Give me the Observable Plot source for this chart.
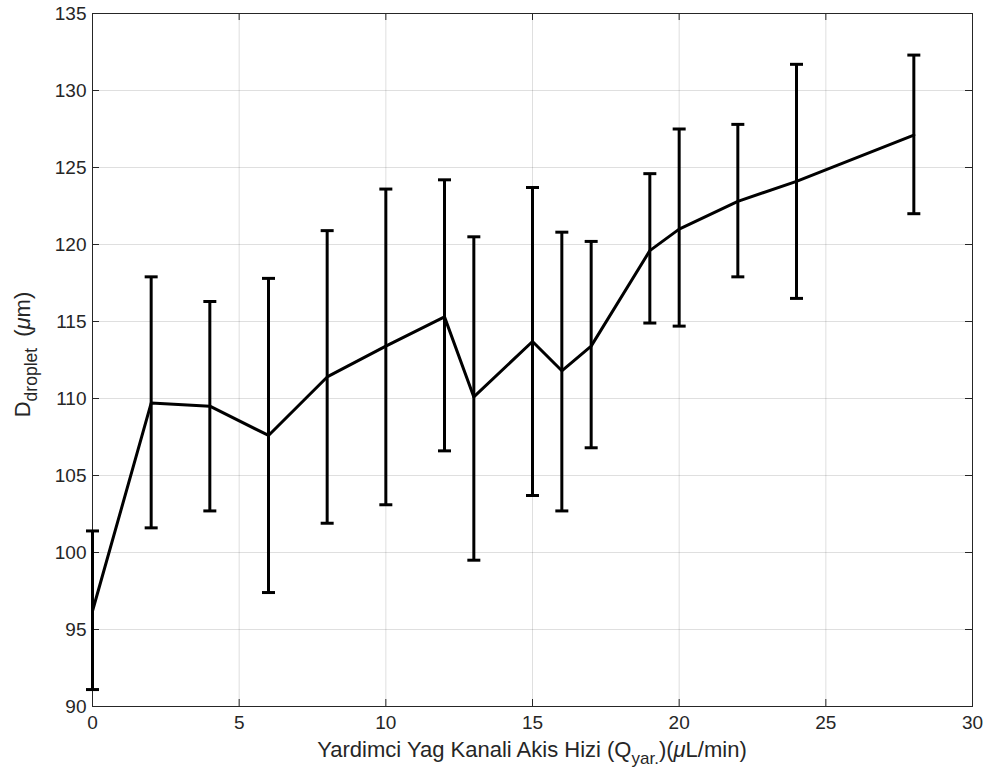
<!DOCTYPE html>
<html>
<head>
<meta charset="utf-8">
<script src="https://cdn.jsdelivr.net/npm/d3@7"></script>
<script src="https://cdn.jsdelivr.net/npm/@observablehq/plot@0.6"></script>
<style>
  html, body { margin: 0; padding: 0; background: #fff; }
  #chart { width: 987px; height: 781px; }
</style>
</head>
<body>
<div id="chart"></div>
<script>
// Flow rate of auxiliary oil channel (µL/min)
const flowRates = [0, 2, 4, 6, 8, 10, 12, 13, 15, 16, 17, 19, 20, 22, 24, 28];
// Mean droplet diameter (µm)
const meanDiameter = [96.2, 109.7, 109.5, 107.6, 111.4, 113.4, 115.3, 110.1, 113.7, 111.8, 113.4, 119.6, 121.0, 122.8, 124.1, 127.1];
// Error bar upper / lower ends (µm)
const upperEnd = [101.4, 117.9, 116.3, 117.8, 120.9, 123.6, 124.2, 120.5, 123.7, 120.8, 120.2, 124.6, 127.5, 127.8, 131.7, 132.3];
const lowerEnd = [91.1, 101.6, 102.7, 97.4, 101.9, 103.1, 106.6, 99.5, 103.7, 102.7, 106.8, 114.9, 114.7, 117.9, 116.5, 122.0];
// Axis ticks
const xTicks = [0, 5, 10, 15, 20, 25, 30];
const yTicks = [90, 95, 100, 105, 110, 115, 120, 125, 130, 135];

const data = flowRates.map((q, i) => ({q, mean: meanDiameter[i], hi: upperEnd[i], lo: lowerEnd[i]}));

const W = 987, H = 781;
const mL = 92, mR = 15, mT = 13, mB = 75;
const plotW = W - mL - mR, plotH = H - mT - mB;
const tickLen = 7;
const ink = "#262626";
const font = "'Liberation Sans', Arial, Helvetica, sans-serif";

const capSymbol = {
  draw(context, size) {
    const r = Math.sqrt(size / Math.PI);
    context.moveTo(-r, 0);
    context.lineTo(r, 0);
  }
};

const svg = Plot.plot({
  width: W,
  height: H,
  marginLeft: mL,
  marginRight: mR,
  marginTop: mT,
  marginBottom: mB,
  style: {fontSize: "19px", fontFamily: font, color: ink, background: "#fff", overflow: "visible"},
  x: {domain: [0, 30], ticks: xTicks},
  y: {domain: [90, 135], ticks: yTicks},
  marks: [
    Plot.gridX(xTicks, {stroke: ink, strokeOpacity: 0.15}),
    Plot.gridY(yTicks, {stroke: ink, strokeOpacity: 0.15}),
    Plot.axisX(xTicks, {tickSize: 0, tickPadding: 9, label: null, fill: ink}),
    Plot.axisY(yTicks, {tickSize: 0, tickPadding: 6, label: null, fill: ink}),
    // inward ticks on all four sides
    Plot.ruleX(xTicks, {x: d => d, stroke: ink, insetTop: plotH - tickLen}),
    Plot.ruleX(xTicks, {x: d => d, stroke: ink, insetBottom: plotH - tickLen}),
    Plot.ruleY(yTicks, {y: d => d, stroke: ink, insetRight: plotW - tickLen}),
    Plot.ruleY(yTicks, {y: d => d, stroke: ink, insetLeft: plotW - tickLen}),
    Plot.frame({stroke: ink, strokeWidth: 1}),
    // error bars
    Plot.ruleX(data, {x: "q", y1: "lo", y2: "hi", stroke: "#000", strokeWidth: 3}),
    Plot.dot(data, {x: "q", y: "lo", symbol: capSymbol, r: 6.5, fill: "none", stroke: "#000", strokeWidth: 3}),
    Plot.dot(data, {x: "q", y: "hi", symbol: capSymbol, r: 6.5, fill: "none", stroke: "#000", strokeWidth: 3}),
    // mean line
    Plot.line(data, {x: "q", y: "mean", stroke: "#000", strokeWidth: 3, strokeLinejoin: "round"})
  ]
});

const s = d3.select(svg);
// x-axis label
const xl = s.append("text")
  .attr("x", mL + plotW / 2)
  .attr("y", 757)
  .attr("text-anchor", "middle")
  .attr("fill", ink)
  .style("font-family", font)
  .style("font-size", "22px");
xl.append("tspan").text("Yardimci Yag Kanali Akis Hizi (Q");
xl.append("tspan").attr("dy", 7).style("font-size", "17px").text("yar.");
xl.append("tspan").attr("dy", -7).text(")(");
xl.append("tspan").style("font-style", "italic").text("μ");
xl.append("tspan").text("L/min)");

// y-axis label
const yl = s.append("text")
  .attr("transform", `translate(30, ${mT + plotH / 2 - 5}) rotate(-90)`)
  .attr("text-anchor", "middle")
  .attr("fill", ink)
  .style("font-family", font)
  .style("font-size", "22px");
yl.append("tspan").text("D");
yl.append("tspan").attr("dy", 7).style("font-size", "17.5px").text("droplet");
yl.append("tspan").attr("dy", -7).attr("dx", 5).text(" (");
yl.append("tspan").style("font-style", "italic").text("μ");
yl.append("tspan").text("m)");

document.getElementById("chart").appendChild(svg);
</script>
</body>
</html>
